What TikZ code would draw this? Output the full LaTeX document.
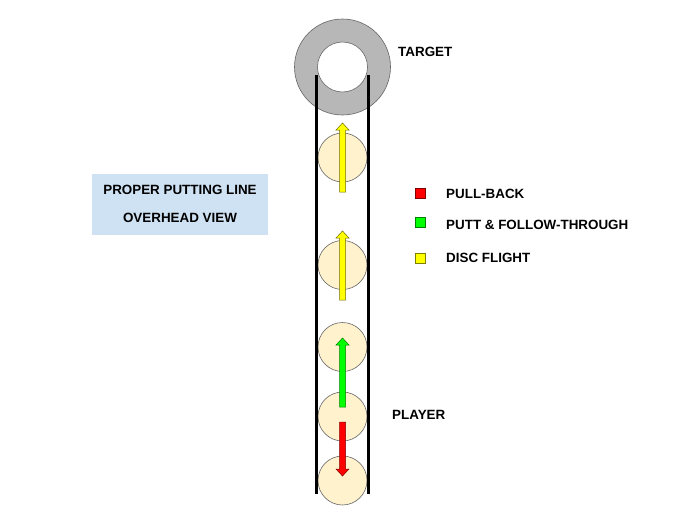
\documentclass[tikz,border=0pt]{standalone}
\usepackage{fontspec}
\setmainfont{Liberation Sans}
\begin{document}
\begin{tikzpicture}[x=1pt,y=-1pt,
  lbl/.style={font=\fontsize{13.4}{15}\selectfont\bfseries, inner sep=0pt},
  disc/.style={circle, minimum size=49pt, inner sep=0pt, draw=black!60, fill=discfill, line width=0.6pt},
  rail/.style={line width=2.8pt, black},
  legsq/.style={minimum size=10pt, inner sep=0pt, line width=0.6pt},
  blk/.style={line width=0.5pt, line join=miter}]
\definecolor{discfill}{HTML}{FFF2CC}
\definecolor{ringgray}{HTML}{B7B7B7}
\definecolor{boxblue}{HTML}{CFE2F3}
\definecolor{yelarr}{HTML}{FFFF00}
\definecolor{grnarr}{HTML}{00FF00}
\definecolor{redarr}{HTML}{FF0000}
\useasboundingbox (0,0) rectangle (685,514);
\fill[white] (0,0) rectangle (685,514);
% target ring
\node[circle, minimum size=96pt, inner sep=0pt, draw=black!60, fill=ringgray, line width=0.6pt] (ring) at (342.5,67) {};
\node[circle, minimum size=50pt, inner sep=0pt, draw=black!60, fill=white, line width=0.6pt] (hole) at (342.5,67) {};
\node[lbl, anchor=west] (target) at (398,52) {TARGET};
% discs
\node[disc] (d1) at (342.5,157.5) {};
\node[disc] (d2) at (342.5,265) {};
\node[disc] (d3) at (342.5,347) {};
\node[disc] (d4) at (342.5,416.5) {};
\node[disc] (d5) at (342.5,480.5) {};
% rails
\coordinate (lt) at (316.7,75);
\coordinate (lb) at (316.7,494);
\coordinate (rt) at (368.3,75);
\coordinate (rb) at (368.3,494);
\draw[rail] (lt) -- (lb);
\draw[rail] (rt) -- (rb);
% arrows
\draw[blk, draw=black!45!yelarr!80!black, fill=yelarr]
  (339.5,192) -- (339.5,130) -- (336,130) -- (342.5,123) -- (349,130) -- (345.5,130) -- (345.5,192) -- cycle;
\draw[blk, draw=black!45!yelarr!80!black, fill=yelarr]
  (339.5,300) -- (339.5,238) -- (336,238) -- (342.5,231) -- (349,238) -- (345.5,238) -- (345.5,300) -- cycle;
\draw[blk, draw=grnarr!50!black, fill=grnarr]
  (339.5,407) -- (339.5,345) -- (336,345) -- (342.5,338) -- (349,345) -- (345.5,345) -- (345.5,407) -- cycle;
\draw[blk, draw=redarr!50!black, fill=redarr]
  (339.5,422) -- (339.5,469) -- (336,469) -- (342.5,476) -- (349,469) -- (345.5,469) -- (345.5,422) -- cycle;
\node[lbl, anchor=west] (player) at (392,415) {PLAYER};
% legend
\node[legsq, draw=redarr!50!black, fill=redarr] (sq1) at (420.5,193.5) {};
\node[legsq, draw=grnarr!50!black, fill=grnarr] (sq2) at (420.5,222.5) {};
\node[legsq, draw=yelarr!50!black, fill=yelarr] (sq3) at (420.5,258.5) {};
\node[lbl, anchor=west] (l1) at (446,194) {PULL-BACK};
\node[lbl, anchor=west] (l2) at (446,225) {PUTT \& FOLLOW-THROUGH};
\node[lbl, anchor=west] (l3) at (446,258) {DISC FLIGHT};
% title box
\fill[boxblue] (92,174) rectangle (268,235);
\node[lbl] (t1) at (180,190) {PROPER PUTTING LINE};
\node[lbl] (t2) at (180,218) {OVERHEAD VIEW};
\end{tikzpicture}
\end{document}
